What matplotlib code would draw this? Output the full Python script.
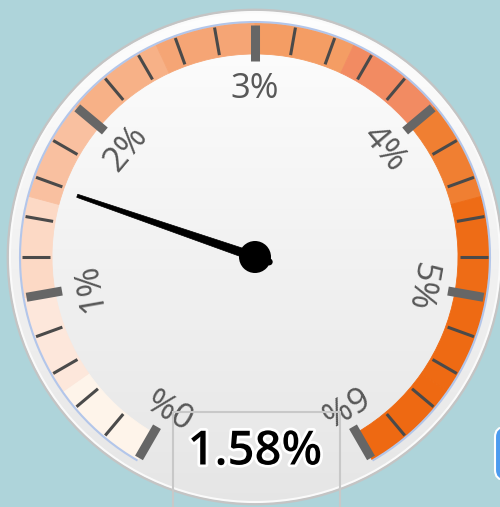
import numpy as np
import matplotlib
matplotlib.use("Agg")
import matplotlib.pyplot as plt
from matplotlib.patches import Circle, Wedge, Polygon, Rectangle, FancyBboxPatch, Arc
import matplotlib.patheffects as pe

# --- data ---
gauge_min = 0
gauge_max = 6
value = 1.58
major_ticks = [0, 1, 2, 3, 4, 5, 6]
tick_labels = ["0%", "1%", "2%", "3%", "4%", "5%", "6%"]
minor_step = 0.2
band_edges = [0, 0.5, 1, 1.5, 2, 2.5, 3, 3.5, 4, 4.5, 5, 5.5, 6]
band_colors = ["#fef4ea", "#fde7db", "#fcd9c5", "#f9c0a0", "#f7b187", "#f5a575",
               "#f49d64", "#f28b62", "#f07f32", "#ee6c16", "#ee6a13", "#ee6912"]
value_text = "1.58%"

# --- geometry (pixel space, y up) ---
W, H = 500, 507
cx, cy = 255, H - 257
r_rim = 247
r_band_out = 234
r_band_in = 203
start_deg, sweep = 240, 300


def ang(v):
    return start_deg - (v - gauge_min) / (gauge_max - gauge_min) * sweep


def pol(r, a):
    t = np.radians(a)
    return cx + r * np.cos(t), cy + r * np.sin(t)


fig = plt.figure(figsize=(W / 100, H / 100), dpi=100)
fig.patch.set_facecolor("#aed4da")
ax = fig.add_axes([0, 0, 1, 1])
ax.set_xlim(0, W)
ax.set_ylim(0, H)
ax.set_aspect("equal")
ax.axis("off")

# rim + face with vertical gradient
grad = np.linspace(0, 1, 256).reshape(-1, 1)
top = np.array([0.995, 0.995, 0.995])
bot = np.array([0.90, 0.90, 0.90])
img = top * (1 - grad)[..., None] + bot * grad[..., None]
img = img.reshape(256, 1, 3)
face = Circle((cx, cy), r_rim, facecolor="none", edgecolor="none")
ax.add_patch(face)
im = ax.imshow(img, extent=[cx - r_rim, cx + r_rim, cy - r_rim, cy + r_rim],
               origin="upper", aspect="auto", zorder=1)
im.set_clip_path(face)
ax.add_patch(Circle((cx, cy), r_rim, facecolor="none", edgecolor="#c4c4c4", lw=2, zorder=2))
ax.add_patch(Circle((cx, cy), r_rim - 2, facecolor="none", edgecolor="#fafafa", lw=1.5, zorder=2))

# colour band
for i, c in enumerate(band_colors):
    ax.add_patch(Wedge((cx, cy), r_band_out, ang(band_edges[i + 1]), ang(band_edges[i]),
                       width=r_band_out - r_band_in, facecolor=c, edgecolor=c, lw=0.6,
                       zorder=3))
ax.add_patch(Arc((cx, cy), 2 * r_band_out + 2, 2 * r_band_out + 2, theta1=ang(gauge_max),
                 theta2=ang(gauge_min), color="#b3c6ea", lw=1.5, zorder=3))

# minor ticks
n_minor = int(round((gauge_max - gauge_min) / minor_step))
for k in range(n_minor + 1):
    v = gauge_min + k * minor_step
    if abs(v - round(v)) < 1e-6:
        continue
    a = ang(v)
    x0, y0 = pol(205, a)
    x1, y1 = pol(233, a)
    ax.plot([x0, x1], [y0, y1], color="#4a4a4a", lw=2.2, solid_capstyle="butt", zorder=4)

# major ticks + labels
for v, lab in zip(major_ticks, tick_labels):
    a = ang(v)
    x0, y0 = pol(196, a)
    x1, y1 = pol(232, a)
    ax.plot([x0, x1], [y0, y1], color="#666666", lw=6.5, solid_capstyle="butt", zorder=5)
    tx, ty = pol(168, a)
    ax.text(tx, ty, lab, rotation=a - 90, rotation_mode="anchor", ha="center", va="center",
            fontsize=25, color="#585858", family=["Open Sans", "DejaVu Sans"], zorder=5)

# needle
a = ang(value)
t = np.radians(a)
px, py = -np.sin(t), np.cos(t)
tipx, tipy = pol(188, a)
needle = Polygon([[cx + 4.5 * px, cy + 4.5 * py], [tipx + 1.6 * px, tipy + 1.6 * py],
                  [tipx - 1.6 * px, tipy - 1.6 * py], [cx - 4.5 * px, cy - 4.5 * py]],
                 closed=True, facecolor="black", edgecolor="black", lw=0.5, zorder=6)
ax.add_patch(needle)
ax.add_patch(Circle((cx, cy), 16, facecolor="black", zorder=7))
ax.add_patch(Circle(pol(15, a + 180), 3.5, facecolor="black", zorder=7))

# value box
ax.add_patch(Rectangle((173, -5), 167, H - 412 + 5, facecolor="none", edgecolor="#c8c8c8",
                       lw=1.5, zorder=8))
ax.text(cx, H - 452, value_text, ha="center", va="center", fontsize=34, color="black",
        weight="semibold", family=["Open Sans", "DejaVu Sans"], zorder=9,
        path_effects=[pe.withStroke(linewidth=4, foreground="white")])

# partial blue button at the right edge
ax.add_patch(FancyBboxPatch((495, H - 480), 30, 53, boxstyle="round,pad=0,rounding_size=10",
                            facecolor="#4c9bef", edgecolor="white", lw=1.5, zorder=2))

fig.savefig("out.png", dpi=100, facecolor=fig.get_facecolor())
